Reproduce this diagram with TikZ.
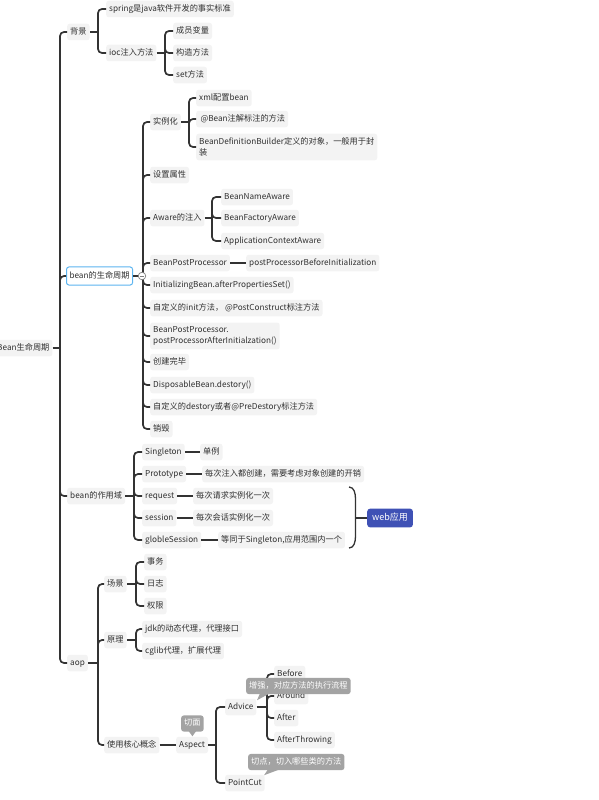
\documentclass[tikz,border=0pt]{standalone}
\usepackage{fontspec}
\setmainfont{Noto Sans CJK SC}
\usetikzlibrary{calc}
\definecolor{boxbg}{HTML}{F3F3F3}
\definecolor{lncol}{HTML}{333333}
\definecolor{txt}{HTML}{303030}
\definecolor{lifeblue}{HTML}{5DB5F0}
\definecolor{webblue}{HTML}{3F51B5}
\definecolor{notegray}{HTML}{A3A3A3}
\tikzset{
 mm/.style={fill=boxbg, rounded corners=2.5pt, inner xsep=3pt, inner ysep=4.2pt, text height=6.3pt, text depth=1.8pt, anchor=west, font=\fontsize{8.2}{10}\selectfont, text=txt},
 mmtwo/.style={fill=boxbg, rounded corners=2.5pt, inner xsep=3pt, inner ysep=4pt, align=left, anchor=west, font=\fontsize{8.2}{11}\selectfont, text=txt},
 ln/.style={draw=lncol, line width=1.7pt, rounded corners=4pt},
 note/.style={fill=notegray, rounded corners=2.5pt, inner xsep=3pt, inner ysep=4pt, text height=6.3pt, text depth=1.8pt, anchor=west, font=\fontsize{8.2}{10}\selectfont, text=white},
}
\newcommand\mmbr[2]{\draw[ln] (#1) |- (#2.west);}
\begin{document}
\begin{tikzpicture}[x=1pt,y=-1pt]
\useasboundingbox (0,0) rectangle (599,800);
% root
\node[mm] (root) at (-6,348) {Bean生命周期};
\coordinate (t) at (60,348);
\draw[ln] (root.east) -- (t);
% level 1
\node[mm] (bg) at (67,32) {背景};
\node[mm, fill=white, draw=lifeblue, line width=1pt, inner ysep=5pt] (life) at (66,276) {bean的生命周期};
\node[mm] (scope) at (67,496) {bean的作用域};
\node[mm] (aop) at (67,663) {aop};
\mmbr{t}{bg}\mmbr{t}{life}\mmbr{t}{scope}\mmbr{t}{aop}
% 背景
\coordinate (sbg) at (98,32);
\draw[ln] (bg.east) -- (sbg);
\node[mm] (spring) at (106,9) {spring是java软件开发的事实标准};
\node[mm] (ioc) at (106,53) {ioc注入方法};
\mmbr{sbg}{spring}\mmbr{sbg}{ioc}
\coordinate (sioc) at (165,53);
\draw[ln] (ioc.east) -- (sioc);
\node[mm] (mem) at (173,31) {成员变量};
\node[mm] (ctor) at (173,53) {构造方法};
\node[mm] (setm) at (173,75) {set方法};
\mmbr{sioc}{mem}\mmbr{sioc}{ctor}\mmbr{sioc}{setm}
% bean的生命周期
\coordinate (slife) at (143,276);
\draw[ln] (life.east) -- (slife);
\node[mm] (inst) at (150,122) {实例化};
\node[mm] (setp) at (150,175) {设置属性};
\node[mm] (aware) at (150,218) {Aware的注入};
\node[mm] (bpp) at (150,263) {BeanPostProcessor};
\node[mm] (ib) at (150,285) {InitializingBean.afterPropertiesSet()};
\node[mm] (init) at (150,308) {自定义的init方法， @PostConstruct标注方法};
\node[mmtwo] (bpa) at (150,336) {BeanPostProcessor.\\postProcessorAfterInitialzation()};
\node[mm] (done) at (150,362) {创建完毕};
\node[mm] (disp) at (150,385) {DisposableBean.destory()};
\node[mm] (cdes) at (150,407) {自定义的destory或者@PreDestory标注方法};
\node[mm] (dest) at (150,429) {销毁};
\foreach \c in {inst,setp,aware,bpp,ib,init,bpa,done,disp,cdes,dest}{\mmbr{slife}{\c}}
\node[circle, draw=gray, fill=white, line width=0.7pt, inner sep=0pt, minimum size=7.5pt] (col) at (142,276) {};
\draw[gray, line width=0.7pt] ($(col.center)+(-2,0)$) -- ($(col.center)+(2,0)$);
% 实例化
\coordinate (sinst) at (189,122);
\draw[ln] (inst.east) -- (sinst);
\node[mm] (xml) at (196,98) {xml配置bean};
\node[mm] (atb) at (196,119) {\,@Bean注解标注的方法};
\node[mmtwo] (bdb) at (196,147) {BeanDefinitionBuilder定义的对象，一般用于封\\装};
\mmbr{sinst}{xml}\mmbr{sinst}{atb}\mmbr{sinst}{bdb}
% Aware
\coordinate (saw) at (212,218);
\draw[ln] (aware.east) -- (saw);
\node[mm] (bna) at (221,197) {BeanNameAware};
\node[mm] (bfa) at (221,218) {BeanFactoryAware};
\node[mm] (aca) at (221,241) {ApplicationContextAware};
\mmbr{saw}{bna}\mmbr{saw}{bfa}\mmbr{saw}{aca}
% BPP
\node[mm] (ppbi) at (246,263) {postProcessorBeforeInitialization};
\draw[ln] (bpp.east) -- (ppbi.west);
% bean的作用域
\coordinate (ssc) at (134,496);
\draw[ln] (scope.east) -- (ssc);
\node[mm] (sing) at (142,452) {Singleton};
\node[mm] (proto) at (142,474) {Prototype};
\node[mm] (req) at (142,496) {request};
\node[mm] (sess) at (142,518) {session};
\node[mm] (gs) at (142,540) {globleSession};
\foreach \c in {sing,proto,req,sess,gs}{\mmbr{ssc}{\c}}
\node[mm] (dl) at (200,452) {单例};
\node[mm] (pd) at (202,474) {每次注入都创建，需要考虑对象创建的开销};
\node[mm] (rd) at (193,496) {每次请求实例化一次};
\node[mm] (sd) at (193,518) {每次会话实例化一次};
\node[mm] (gd) at (218,540) {等同于Singleton,应用范围内一个};
\draw[ln] (sing.east) -- (dl.west);
\draw[ln] (proto.east) -- (pd.west);
\draw[ln] (req.east) -- (rd.west);
\draw[ln] (sess.east) -- (sd.west);
\draw[ln] (gs.east) -- (gd.west);
% brace + web
\coordinate (bt) at (349,487);
\coordinate (bb) at (349,548);
\coordinate (bm) at (355.5,518);
\draw[lncol, line width=1.3pt] (bt) to[out=0,in=90] (355.5,499) -- (355.5,536) to[out=-90,in=0] (bb);
\node[fill=webblue, rounded corners=3pt, inner xsep=5pt, inner ysep=5pt, text height=6.8pt, text depth=2pt, anchor=west, font=\fontsize{9}{11}\selectfont, text=white] (web) at (367,518) {web应用};
\draw[lncol, line width=1.3pt] (bm) -- (web.west);
% aop
\coordinate (saop) at (98,663);
\draw[ln] (aop.east) -- (saop);
\node[mm] (scene) at (104,584) {场景};
\node[mm] (prin) at (104,640) {原理};
\node[mm] (core) at (104,745) {使用核心概念};
\mmbr{saop}{scene}\mmbr{saop}{prin}\mmbr{saop}{core}
\coordinate (ssce) at (136,584);
\draw[ln] (scene.east) -- (ssce);
\node[mm] (sw) at (144,562) {事务};
\node[mm] (rz) at (144,584) {日志};
\node[mm] (qx) at (144,606) {权限};
\mmbr{ssce}{sw}\mmbr{ssce}{rz}\mmbr{ssce}{qx}
\coordinate (sprin) at (136,640);
\draw[ln] (prin.east) -- (sprin);
\node[mm] (jdk) at (142,629) {jdk的动态代理，代理接口};
\node[mm] (cglib) at (142,651) {cglib代理，扩展代理};
\mmbr{sprin}{jdk}\mmbr{sprin}{cglib}
\node[mm] (aspect) at (176,745) {Aspect};
\draw[ln] (core.east) -- (aspect.west);
\coordinate (sasp) at (216,745);
\draw[ln] (aspect.east) -- (sasp);
\node[mm] (advice) at (225,707) {Advice};
\node[mm] (pc) at (225,783) {PointCut};
\mmbr{sasp}{advice}\mmbr{sasp}{pc}
\coordinate (sadv) at (267,707);
\draw[ln] (advice.east) -- (sadv);
\node[mm] (before) at (274,674) {Before};
\node[mm] (around) at (274,696) {Around};
\node[mm] (after) at (274,718) {After};
\node[mm] (athrow) at (274,740) {AfterThrowing};
\foreach \c in {before,around,after,athrow}{\mmbr{sadv}{\c}}
% callouts
\node[note] (n1) at (246,686) {增强，对应方法的执行流程};
\fill[notegray] ($(n1.south west)+(14,-1)$) -- ($(n1.south west)+(24,-1)$) -- ($(n1.south west)+(11,6)$) -- cycle;
\node[note] (n2) at (181,723.5) {切面};
\fill[notegray] ($(n2.south)+(-4,-1)$) -- ($(n2.south)+(4,-1)$) -- ($(n2.south)+(0,4.5)$) -- cycle;
\node[note] (n3) at (248,762) {切点，切入哪些类的方法};
\fill[notegray] ($(n3.south west)+(20,-1)$) -- ($(n3.south west)+(32,-1)$) -- ($(n3.south west)+(16,5)$) -- cycle;
\end{tikzpicture}
\end{document}
